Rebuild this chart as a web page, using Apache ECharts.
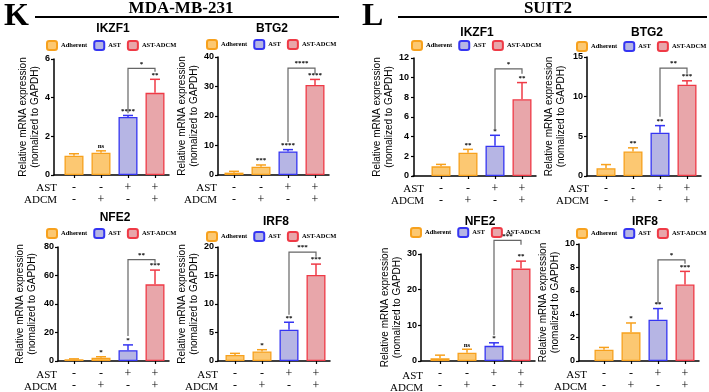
<!DOCTYPE html>
<html>
<head>
<meta charset="utf-8">
<script src="https://cdn.jsdelivr.net/npm/echarts@6/dist/echarts.min.js"></script>
<style>
  html, body { margin: 0; padding: 0; background: #fff; }
  #chart { width: 709px; height: 392px; }
</style>
</head>
<body>
<div id="chart"></div>
<script>
// data
const genes = ['IKZF1', 'BTG2', 'NFE2', 'IRF8', 'IKZF1', 'BTG2', 'NFE2', 'IRF8'];
const groups = ['Adherent', 'AST', 'AST-ADCM'];
const astRow = ['-', '-', '+', '+'];
const adcmRow = ['-', '+', '-', '+'];
const yMax = [6, 40, 80, 20, 12, 15, 30, 10];
const yStep = [2, 10, 20, 5, 2, 5, 10, 2];
const means = [
  [1.0, 1.15, 3.0, 4.25],
  [0.8, 2.8, 8.0, 30.5],
  [1.2, 2.2, 7.6, 53.8],
  [1.04, 1.68, 5.5, 15.1],
  [0.98, 2.37, 3.08, 7.8],
  [0.97, 3.08, 5.45, 11.5],
  [0.74, 2.3, 4.25, 25.9],
  [0.96, 2.45, 3.52, 6.54]
];
const errs = [
  [0.1, 0.1, 0.08, 0.7],
  [0.45, 0.6, 0.6, 1.9],
  [0.3, 0.8, 3.7, 10],
  [0.3, 0.3, 1.3, 1.9],
  [0.2, 0.34, 1.06, 1.7],
  [0.47, 0.47, 0.9, 0.5],
  [0.9, 1.0, 0.85, 2.1],
  [0.2, 0.8, 0.96, 1.12]
];
const stars = [
  ['', 'ns', '****', '**'],
  ['', '***', '****', '****'],
  ['', '*', '*', '***'],
  ['', '*', '**', '***'],
  ['', '**', '*', '**'],
  ['', '**', '**', '***'],
  ['', 'ns', '*', '**'],
  ['', '*', '**', '***']
];
// AST vs AST-ADCM comparison bracket
const brTop = [5.52, 36.25, 71.2, 19.1, 10.9, 13.6, 33.8, 8.65];
const brLeft = [3.2, 11.2, 17.6, 8.1, 4.64, 7.48, 7.2, 4.85];
const brRight = [5.34, 34.3, 68.9, 18.3, 10.4, 12.9, 32.6, 8.31];
const brSig = ['*', '****', '**', '***', '*', '**', '***', '*'];

// layout of each panel (pixels)
const panels = [
  { left: 54, gap: 20, top: 59, bottom: 175, nameGap: 12, tx: 113, ty: 29, lx: 46, ly: 40 },
  { left: 218, gap: 16, top: 57, bottom: 175, nameGap: 18, tx: 272, ty: 29, lx: 206, ly: 39 },
  { left: 58, gap: 16, top: 247, bottom: 362, nameGap: 20, tx: 115, ty: 218, lx: 46, ly: 228 },
  { left: 218, gap: 17, top: 247, bottom: 362, nameGap: 18, tx: 276, ty: 222, lx: 206, ly: 231 },
  { left: 413, gap: 28, top: 58, bottom: 176, nameGap: 8, tx: 477, ty: 33, lx: 411, ly: 40 },
  { left: 587, gap: 19, top: 57, bottom: 176, nameGap: 20, tx: 647, ty: 33, lx: 576, ly: 41 },
  { left: 421, gap: 19, top: 254, bottom: 363, nameGap: 18, tx: 480, ty: 222, lx: 410, ly: 227 },
  { left: 579, gap: 25, top: 244, bottom: 362, nameGap: 11, tx: 645, ty: 222, lx: 576, ly: 228 }
];
const STEP = 27, PAD = 14;
const fills = ['#fcc872', '#b6b5e4', '#e8a6aa'];
const edges = ['#f7a11d', '#3535f2', '#ef3a46'];
const barGroup = [0, 0, 1, 2];
const SERIF = '"Liberation Serif", "Times New Roman", serif';
const SANS = '"Liberation Sans", Arial, sans-serif';

const grid = [], xAxis = [], yAxis = [], series = [], legend = [], graphic = [];

panels.forEach((p, i) => {
  grid.push({ left: p.left, top: p.top, width: p.gap + 3 * STEP + PAD, height: p.bottom - p.top });
  xAxis.push({
    gridIndex: i, type: 'value',
    min: 1 - p.gap / STEP, max: 4 + PAD / STEP,
    splitLine: { show: false },
    axisLine: { lineStyle: { color: '#000', width: 1.5 } },
    axisTick: { show: true, length: 3, customValues: [1, 2, 3, 4], lineStyle: { color: '#000', width: 1.2 } },
    axisLabel: {
      customValues: [1, 2, 3, 4], margin: 7,
      formatter: v => astRow[Math.round(v) - 1] + '\n' + adcmRow[Math.round(v) - 1],
      fontFamily: SERIF, fontSize: 12, lineHeight: 12, color: '#000'
    }
  });
  yAxis.push({
    gridIndex: i, type: 'value', min: 0, max: yMax[i], interval: yStep[i],
    name: 'Relative mRNA expression\n(nomalized to GAPDH)',
    nameLocation: 'middle', nameGap: p.nameGap, nameRotate: 90,
    nameTextStyle: { fontFamily: SANS, fontSize: 10, lineHeight: 12, color: '#000' },
    splitLine: { show: false },
    axisLine: { show: true, lineStyle: { color: '#000', width: 1.5 } },
    axisTick: { show: true, length: 3, lineStyle: { color: '#000', width: 1.2 } },
    axisLabel: { margin: 4, fontFamily: SANS, fontSize: 9, fontWeight: 'bold', color: '#000' }
  });

  groups.forEach((g, gi) => {
    const data = [];
    means[i].forEach((m, k) => { if (barGroup[k] === gi) data.push([k + 1, m]); });
    series.push({
      type: 'bar', name: g, xAxisIndex: i, yAxisIndex: i, data: data,
      barWidth: 19, barGap: '-100%',
      itemStyle: { color: fills[gi], borderColor: edges[gi], borderWidth: 1.3 }
    });
  });

  series.push({
    type: 'custom', xAxisIndex: i, yAxisIndex: i, z: 5, clip: false,
    data: means[i].map((m, k) => [k + 1, m, errs[i][k]]),
    renderItem: (params, api) => {
      const k = params.dataIndex;
      const x = api.value(0), m = api.value(1), e = api.value(2);
      const b = api.coord([x, m]), t = api.coord([x, m + e]);
      const c = edges[barGroup[k]];
      return {
        type: 'group', children: [
          { type: 'line', shape: { x1: b[0], y1: b[1], x2: t[0], y2: t[1] }, style: { stroke: c, lineWidth: 1.5 } },
          { type: 'line', shape: { x1: t[0] - 5, y1: t[1], x2: t[0] + 5, y2: t[1] }, style: { stroke: c, lineWidth: 1.5 } },
          { type: 'text', x: t[0], y: t[1] - 1, style: { text: stars[i][k], fill: '#000', font: 'bold 7px ' + SERIF, align: 'center', verticalAlign: 'bottom' } }
        ]
      };
    }
  });

  series.push({
    type: 'custom', xAxisIndex: i, yAxisIndex: i, z: 6, clip: false,
    data: [[3, 4, brTop[i], brLeft[i], brRight[i]]],
    renderItem: (params, api) => {
      const a = api.coord([api.value(0), api.value(2)]);
      const b = api.coord([api.value(1), api.value(2)]);
      const la = api.coord([api.value(0), api.value(3)]);
      const rb = api.coord([api.value(1), api.value(4)]);
      return {
        type: 'group', children: [
          { type: 'polyline', shape: { points: [la, a, b, rb] }, style: { stroke: '#666', lineWidth: 1.2, fill: null } },
          { type: 'text', x: (a[0] + b[0]) / 2, y: a[1] - 1, style: { text: brSig[i], fill: '#000', font: 'bold 7px ' + SERIF, align: 'center', verticalAlign: 'bottom' } }
        ]
      };
    }
  });

  legend.push({
    left: p.lx, top: p.ly, width: 220, data: groups, itemWidth: 10, itemHeight: 9, itemGap: 6,
    selectedMode: false, padding: 0,
    textStyle: { fontFamily: SERIF, fontSize: 6.5, fontWeight: 'bold', color: '#000', padding: [0, 0, 0, -1] }
  });

  graphic.push({ type: 'text', x: p.tx, y: p.ty, style: { text: genes[i], font: 'bold 12px ' + SANS, fill: '#000', align: 'center', verticalAlign: 'middle' } });
  const fx = p.left + p.gap - 17;
  graphic.push({ type: 'text', x: fx, y: p.bottom + 13, style: { text: 'AST', font: '11px ' + SERIF, fill: '#000', align: 'right', verticalAlign: 'middle' } });
  graphic.push({ type: 'text', x: fx, y: p.bottom + 25, style: { text: 'ADCM', font: '11px ' + SERIF, fill: '#000', align: 'right', verticalAlign: 'middle' } });
});

// panel headers
graphic.push(
  { type: 'text', x: 4, y: 17, style: { text: 'K', font: 'bold 32px ' + SERIF, fill: '#000', verticalAlign: 'middle' } },
  { type: 'text', x: 181, y: 9, style: { text: 'MDA-MB-231', font: 'bold 17px ' + SERIF, fill: '#000', align: 'center', verticalAlign: 'middle' } },
  { type: 'line', shape: { x1: 35, y1: 17, x2: 339, y2: 17 }, style: { stroke: '#000', lineWidth: 2 } },
  { type: 'text', x: 362, y: 17, style: { text: 'L', font: 'bold 32px ' + SERIF, fill: '#000', verticalAlign: 'middle' } },
  { type: 'text', x: 548, y: 9, style: { text: 'SUIT2', font: 'bold 17px ' + SERIF, fill: '#000', align: 'center', verticalAlign: 'middle' } },
  { type: 'line', shape: { x1: 398, y1: 17, x2: 707, y2: 17 }, style: { stroke: '#000', lineWidth: 2 } }
);

const chart = echarts.init(document.getElementById('chart'));
chart.setOption({
  animation: false,
  grid: grid, xAxis: xAxis, yAxis: yAxis, legend: legend, series: series, graphic: graphic
});
</script>
</body>
</html>
